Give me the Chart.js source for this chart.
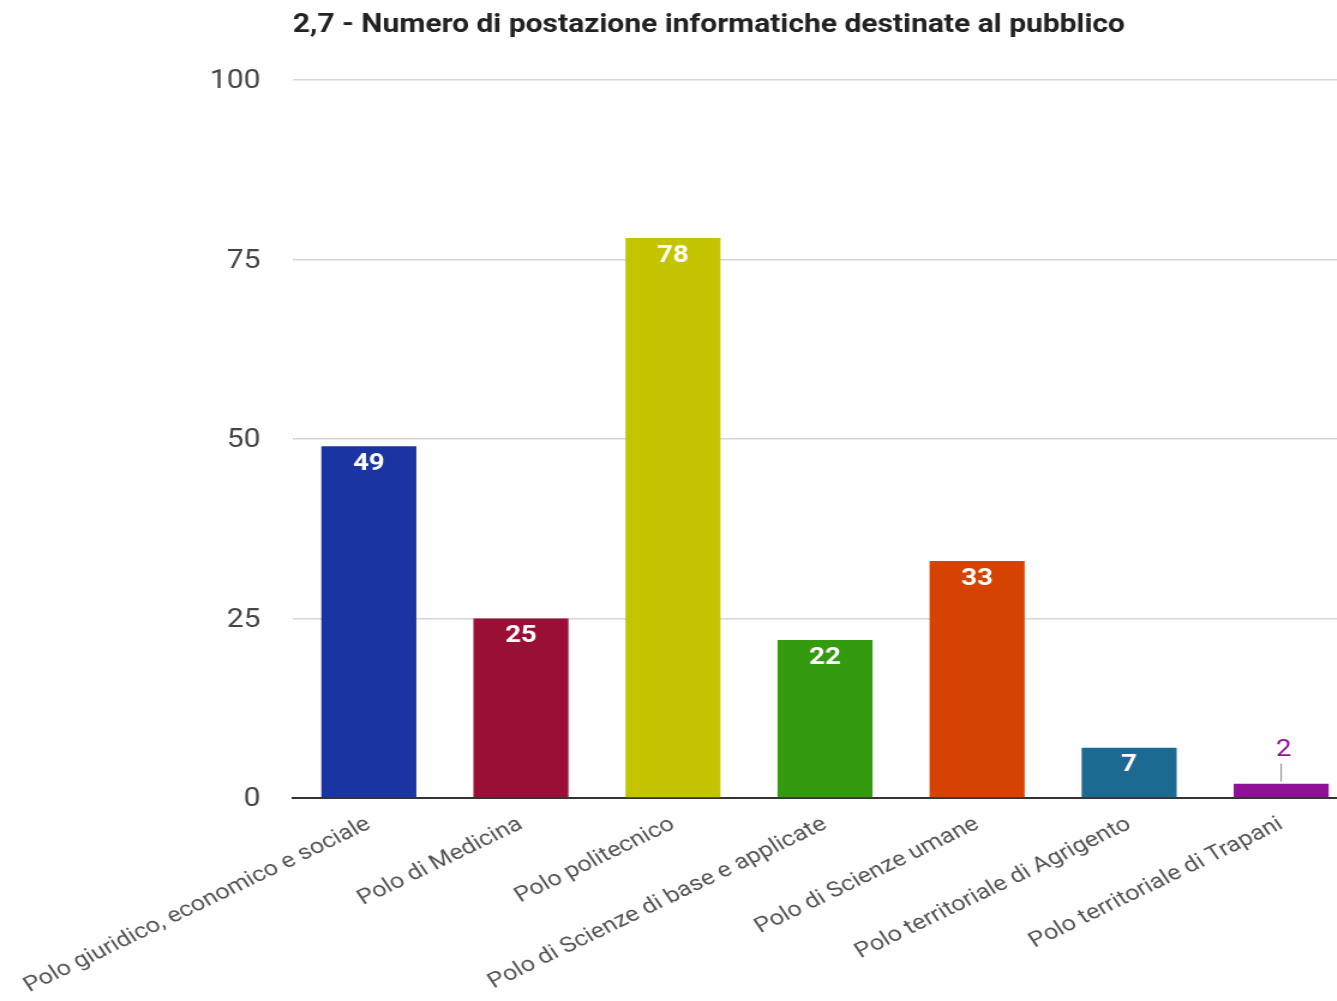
<!DOCTYPE html>
<html>
<head>
<meta charset="utf-8">
<script src="https://cdn.jsdelivr.net/npm/chart.js@4"></script>
<style>
  html, body { margin: 0; padding: 0; overflow: hidden; background: #fff; }
  /* the reference is stretched sideways, so the chart is drawn narrower and scaled */
  #wrap { width: 1150px; height: 1001px; transform: scaleX(1.2); transform-origin: 0 0; }
</style>
</head>
<body>
<div id="wrap"><canvas id="chart"></canvas></div>
<script>
// Data
var titleText = '2,7 - Numero di postazione informatiche destinate al pubblico';
var categories = [
    'Polo giuridico, economico e sociale',
    'Polo di Medicina',
    'Polo politecnico',
    'Polo di Scienze di base e applicate',
    'Polo di Scienze umane',
    'Polo territoriale di Agrigento',
    'Polo territoriale di Trapani'
];
var values = [49, 25, 78, 22, 33, 7, 2];
var barColors = ['#1a35a2', '#990f35', '#c4c400', '#349b10', '#d64200', '#1c6a92', '#8d1296'];
var yTicks = [0, 25, 50, 75, 100];

// Draws the title and the value labels on the bars
var labelPlugin = {
    id: 'barLabels',
    afterDatasetsDraw: function(chart) {
        var ctx = chart.ctx;
        var meta = chart.getDatasetMeta(0);
        ctx.save();
        ctx.textAlign = 'center';
        ctx.textBaseline = 'middle';
        meta.data.forEach(function(bar, i) {
            var v = values[i];
            if (v >= 5) {
                ctx.fillStyle = '#ffffff';
                ctx.font = 'bold 23px Roboto';
                ctx.fillText(String(v), bar.x, bar.y + 18);
            } else {
                // small bar: label above with a short leader line
                ctx.strokeStyle = '#888';
                ctx.lineWidth = 1;
                ctx.beginPath();
                ctx.moveTo(bar.x, bar.y - 2);
                ctx.lineTo(bar.x, bar.y - 20);
                ctx.stroke();
                ctx.fillStyle = barColors[i];
                ctx.font = '23px Roboto';
                ctx.fillText(String(v), bar.x + 2, bar.y - 33);
            }
        });
        // title
        ctx.textAlign = 'left';
        ctx.fillStyle = '#222';
        ctx.font = 'bold 25px Roboto';
        ctx.fillText(titleText, chart.chartArea.left, 26);
        ctx.restore();
    }
};

var ctx = document.getElementById('chart').getContext('2d');
var myChart = new Chart(ctx, {
    type: 'bar',
    data: {
        labels: categories,
        datasets: [{
            data: values,
            backgroundColor: barColors,
            borderWidth: 0,
            barPercentage: 0.625,
            categoryPercentage: 1
        }]
    },
    options: {
        responsive: true,
        maintainAspectRatio: false,
        animation: false,
        layout: { padding: { top: 80, right: 19, bottom: 0, left: 0 } },
        plugins: {
            legend: { display: false },
            title: { display: false },
            tooltip: { enabled: false }
        },
        scales: {
            x: {
                grid: { display: false },
                border: { display: true, color: '#333', width: 2 },
                ticks: {
                    color: '#555',
                    font: { family: 'Roboto', size: 21 },
                    minRotation: 30,
                    maxRotation: 30,
                    autoSkip: false,
                    padding: 6
                },
                afterFit: function(s) {
                    s.paddingLeft = 0;
                    s.paddingRight = 0;
                    s.height = 203;
                }
            },
            y: {
                min: 0,
                max: 100,
                afterBuildTicks: function(s) {
                    s.ticks = yTicks.map(function(v) { return { value: v }; });
                },
                grid: { color: '#d6d6d6', lineWidth: 1.5, drawTicks: false },
                border: { display: false },
                ticks: {
                    color: '#444',
                    font: { family: 'Roboto', size: 25 },
                    padding: 27,
                    labelOffset: 2
                },
                afterFit: function(s) {
                    s.width = 244;
                }
            }
        }
    },
    plugins: [labelPlugin]
});
</script>
</body>
</html>
